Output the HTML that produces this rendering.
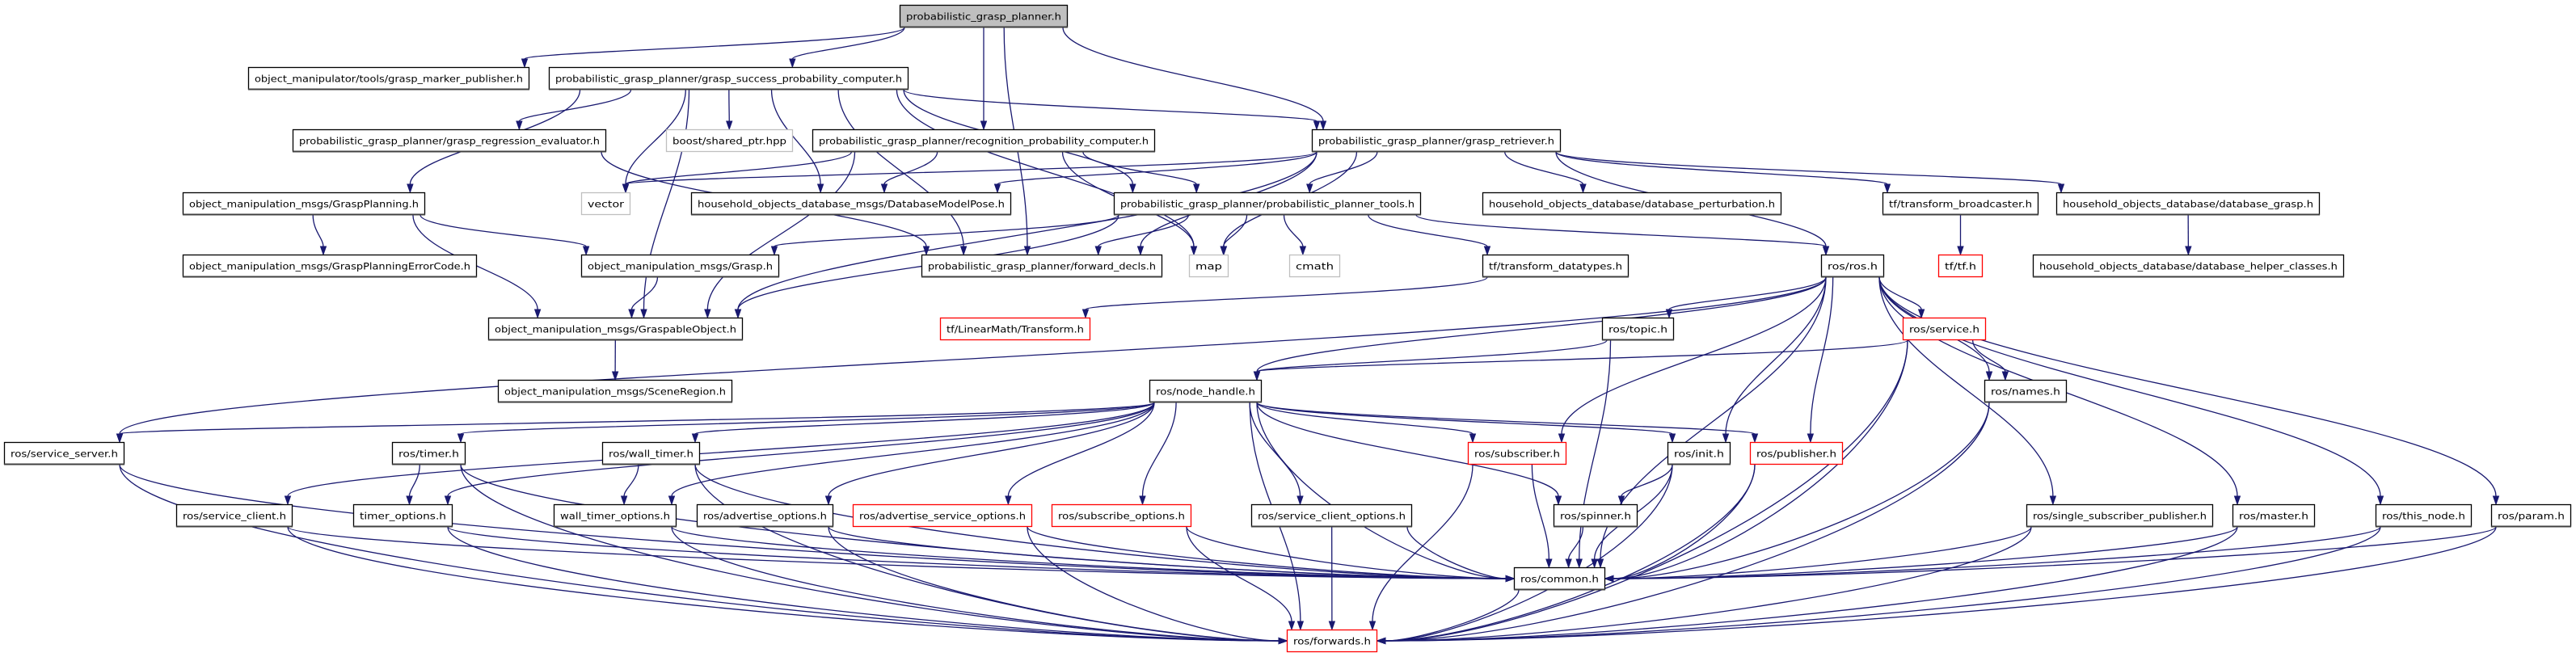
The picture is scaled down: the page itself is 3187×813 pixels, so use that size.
<!DOCTYPE html>
<html><head><meta charset="utf-8"><style>
html,body{margin:0;padding:0;background:#fff;}
svg{display:block;}
text{font-family:"DejaVu Sans","Liberation Sans",sans-serif;font-size:11.5px;fill:#000;}
</style></head><body>
<svg id="g" width="3187" height="813" viewBox="0 0 3187 813" xmlns="http://www.w3.org/2000/svg">
<g id="edges" fill="none" stroke="#191970" stroke-width="1.3"></g>
<g id="heads" fill="#191970" stroke="#191970"></g>
<g id="nodes"></g>
</svg>
<div style="display:none" id="labels">
probabilistic_grasp_planner.h object_manipulator/tools/grasp_marker_publisher.h probabilistic_grasp_planner/grasp_success_probability_computer.h probabilistic_grasp_planner/grasp_regression_evaluator.h boost/shared_ptr.hpp probabilistic_grasp_planner/recognition_probability_computer.h probabilistic_grasp_planner/grasp_retriever.h object_manipulation_msgs/GraspPlanning.h vector household_objects_database_msgs/DatabaseModelPose.h probabilistic_grasp_planner/probabilistic_planner_tools.h household_objects_database/database_perturbation.h tf/transform_broadcaster.h household_objects_database/database_grasp.h object_manipulation_msgs/GraspPlanningErrorCode.h object_manipulation_msgs/Grasp.h probabilistic_grasp_planner/forward_decls.h map cmath tf/transform_datatypes.h ros/ros.h tf/tf.h household_objects_database/database_helper_classes.h object_manipulation_msgs/GraspableObject.h tf/LinearMath/Transform.h ros/topic.h ros/service.h object_manipulation_msgs/SceneRegion.h ros/node_handle.h ros/names.h ros/service_server.h ros/timer.h ros/wall_timer.h ros/subscriber.h ros/init.h ros/publisher.h ros/service_client.h timer_options.h wall_timer_options.h ros/advertise_options.h ros/advertise_service_options.h ros/subscribe_options.h ros/service_client_options.h ros/spinner.h ros/single_subscriber_publisher.h ros/master.h ros/this_node.h ros/param.h ros/common.h ros/forwards.h
</div>
<script>
var R=[0,6,83,160,238,315,393,470,547,624,702,779];
var N=[
["root","probabilistic_grasp_planner.h",1,1113,1321,"root"],
["mp","object_manipulator/tools/grasp_marker_publisher.h",2,307,655,"n"],
["gsp","probabilistic_grasp_planner/grasp_success_probability_computer.h",2,679,1124,"n"],
["reg","probabilistic_grasp_planner/grasp_regression_evaluator.h",3,362,750,"n"],
["boost","boost/shared_ptr.hpp",3,824,981,"g"],
["rec","probabilistic_grasp_planner/recognition_probability_computer.h",3,1005,1429,"n"],
["ret","probabilistic_grasp_planner/grasp_retriever.h",3,1623,1931,"n"],
["gp","object_manipulation_msgs/GraspPlanning.h",4,226,526,"n"],
["vec","vector",4,719,780,"g"],
["dmp","household_objects_database_msgs/DatabaseModelPose.h",4,855,1251,"n"],
["tools","probabilistic_grasp_planner/probabilistic_planner_tools.h",4,1378,1758,"n"],
["pert","household_objects_database/database_perturbation.h",4,1834,2204,"n"],
["tfb","tf/transform_broadcaster.h",4,2329,2522,"n"],
["dbg","household_objects_database/database_grasp.h",4,2544,2870,"n"],
["gpe","object_manipulation_msgs/GraspPlanningErrorCode.h",5,226,590,"n"],
["grasp","object_manipulation_msgs/Grasp.h",5,719,964,"n"],
["fd","probabilistic_grasp_planner/forward_decls.h",5,1140,1438,"n"],
["map","map",5,1471,1520,"g"],
["cmath","cmath",5,1595,1658,"g"],
["tfd","tf/transform_datatypes.h",5,1834,2015,"n"],
["ros","ros/ros.h",5,2253,2331,"n"],
["tf","tf/tf.h",5,2398,2453,"r"],
["dhc","household_objects_database/database_helper_classes.h",5,2515,2900,"n"],
["go","object_manipulation_msgs/GraspableObject.h",6,604,919,"n"],
["trans","tf/LinearMath/Transform.h",6,1163,1349,"r"],
["topic","ros/topic.h",6,1982,2071,"n"],
["srv","ros/service.h",6,2354,2457,"r"],
["scene","object_manipulation_msgs/SceneRegion.h",7,616,906,"n"],
["nh","ros/node_handle.h",7,1422,1561,"n"],
["names","ros/names.h",7,2455,2557,"n"],
["ss","ros/service_server.h",8,5,154,"n"],
["timer","ros/timer.h",8,485,576,"n"],
["wt","ros/wall_timer.h",8,745,866,"n"],
["sub","ros/subscriber.h",8,1816,1938,"r"],
["init","ros/init.h",8,2063,2141,"n"],
["pub","ros/publisher.h",8,2165,2280,"r"],
["sc","ros/service_client.h",9,218,362,"n"],
["to","timer_options.h",9,437,560,"n"],
["wto","wall_timer_options.h",9,685,837,"n"],
["ao","ros/advertise_options.h",9,862,1031,"n"],
["aso","ros/advertise_service_options.h",9,1055,1277,"r"],
["so","ros/subscribe_options.h",9,1301,1474,"r"],
["sco","ros/service_client_options.h",9,1548,1747,"n"],
["spin","ros/spinner.h",9,1922,2026,"n"],
["ssp","ros/single_subscriber_publisher.h",9,2507,2738,"n"],
["master","ros/master.h",9,2762,2864,"n"],
["tn","ros/this_node.h",9,2939,3058,"n"],
["param","ros/param.h",9,3082,3181,"n"],
["common","ros/common.h",10,1873,1986,"n"],
["fw","ros/forwards.h",11,1592,1704,"r"]
];
var M={};N.forEach(function(n){M[n[0]]={x1:n[3],x2:n[4],y1:R[n[2]],y2:R[n[2]]+28,cx:(n[3]+n[4])/2,cy:R[n[2]]+14,row:n[2]};});
var E={
root:["mp","gsp","rec","ret","fd"],
gsp:["reg","boost","vec","gp","go","fd","dmp","tools","ret","map"],
reg:["fd"],
rec:["vec","dmp","tools","go","map"],
ret:["vec","dmp","tools","fd","go","pert","tfb","dbg","ros","map"],
tools:["grasp","fd","map","cmath","tfd","ros","go"],
gp:["gpe","grasp","go"],grasp:["go"],go:["scene"],tfb:["tf"],dbg:["dhc"],tfd:["trans"],
ros:["nh","topic","srv","ss","sub","init","pub","names","common","ssp","master","tn","param"],
topic:["nh","common"],srv:["nh","names","common","fw"],
nh:["ss","timer","wt","sc","to","wto","ao","aso","so","sco","sub","init","pub","spin","common","fw"],
names:["common","fw"],ss:["common","fw"],timer:["to","common","fw"],wt:["wto","common","fw"],
sc:["common","fw"],to:["common","fw"],wto:["common","fw"],ao:["common","fw"],aso:["common","fw"],
so:["common","fw"],sco:["common","fw"],sub:["common","fw"],init:["spin","common","fw"],pub:["common","fw"],
spin:["common"],ssp:["common","fw"],master:["common","fw"],tn:["common","fw"],param:["common","fw"],common:["fw"]
};
var NS="http://www.w3.org/2000/svg";
function el(t,a,p){var e=document.createElementNS(NS,t);for(var k in a)e.setAttribute(k,a[k]);p.appendChild(e);return e;}
function cl(v,a,b){return Math.max(a,Math.min(b,v));}
var eg=document.getElementById("edges"),hg=document.getElementById("heads"),ng=document.getElementById("nodes");
for(var s in E){E[s].forEach(function(t){
 var A=M[s],B=M[t];
 var sx=cl(A.cx+(B.cx-A.cx)*0.35,A.x1+6,A.x2-6),sy=A.y2;
 var dy=B.y1-A.y2,dx=B.cx-sx,ex,ey,c1x,c1y,c2x,c2y;
 var side=(t=="common"||t=="fw")&&Math.abs(dx)>1.5*dy&&dy>40;
 if(side){
   ey=B.cy; ex=dx>0?B.x1:B.x2;
   c1x=sx;c1y=sy+dy*0.5;c2x=ex+(dx>0?-Math.abs(ex-sx)*0.3:Math.abs(ex-sx)*0.3);c2y=ey;
 } else {
   ex=cl(B.cx+(A.cx-B.cx)*0.25,B.x1+6,B.x2-6);ey=B.y1;
   c1x=sx;c1y=sy+dy*0.4;c2x=ex;c2y=ey-dy*0.4;
 }
 var vx=ex-c2x,vy=ey-c2y,L=Math.sqrt(vx*vx+vy*vy)||1;vx/=L;vy/=L;
 var bx=ex-vx*10,by=ey-vy*10;
 el("path",{d:"M"+sx+","+sy+" C"+c1x+","+c1y+" "+c2x+","+c2y+" "+bx+","+by},eg);
 el("polygon",{points:ex+","+ey+" "+(bx-vy*3.5)+","+(by+vx*3.5)+" "+(bx+vy*3.5)+","+(by-vx*3.5)},hg);
});}
N.forEach(function(n){var b=M[n[0]],st=n[5];
 var stroke=st=="r"?"#ff0000":st=="g"?"#bfbfbf":"#000";
 var fill=st=="root"?"#bfbfbf":"#fff";
 el("rect",{x:b.x1+0.5,y:b.y1+0.5,width:b.x2-b.x1-1,height:27,fill:fill,stroke:stroke,"stroke-width":1.3},ng);
 if(st=="n"||st=="root")el("line",{x1:b.x1,y1:b.y2-0.5,x2:b.x2,y2:b.y2-0.5,stroke:"#404040","stroke-width":2},ng);
 var tx=el("text",{x:b.cx,y:b.y1+18.5,"text-anchor":"middle",textLength:Math.max(10,b.x2-b.x1-16),lengthAdjust:"spacingAndGlyphs"},ng);
 tx.textContent=n[1];
});
</script>
</body></html>
